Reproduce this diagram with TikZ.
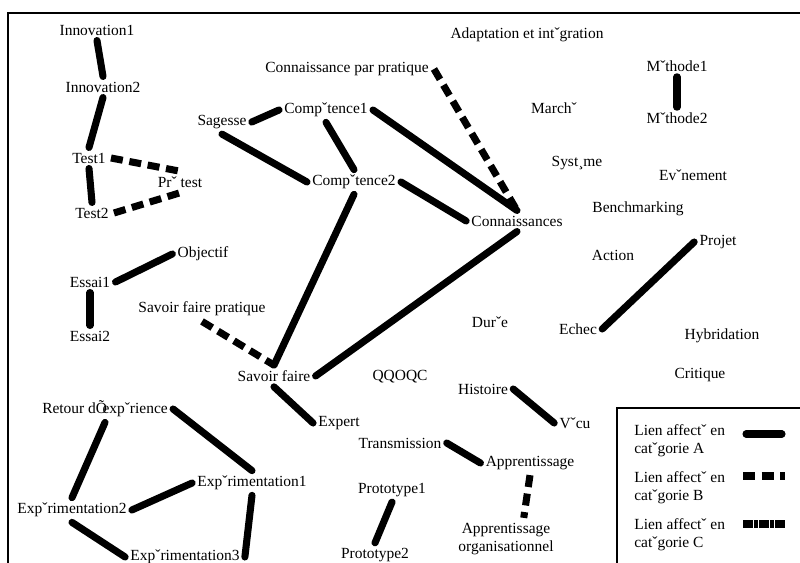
\documentclass[tikz,border=0pt]{standalone}
\usepackage{fontspec}
\setmainfont{Liberation Serif}
\usetikzlibrary{positioning}

\begin{document}
\begin{tikzpicture}[x=0.75pt, y=-0.75pt,
    mot/.style={inner sep=1.5pt, outer sep=2.5pt,
                font=\fontsize{11.6}{13.5}\selectfont},
    lienA/.style={line width=5.3pt, line cap=round},
    lienB/.style={line width=5.3pt, dash pattern=on 9pt off 5pt},
    lienC/.style={line width=5.3pt, dash pattern=on 3.6pt off 0.4pt}
  ]
    \useasboundingbox (0,0) rectangle (800,563);
    \draw[line width=1pt] (8,570) -- (8,13) -- (810,13);

    % mots
    \node[mot] (inno1) at (97,30) {Innovation1};
    \node[mot] (inno2) at (103,87) {Innovation2};
    \node[mot] (test1) at (89,158) {Test1};
    \node[mot] (pretest) at (180,182) {Prˇ test};
    \node[mot] (test2) at (92,213) {Test2};
    \node[mot] (objectif) at (203,254) {Objectif};
    \node[mot] (essai1) at (90,282) {Essai1};
    \node[mot] (essai2) at (90,336) {Essai2};
    \node[mot] (sfpratique) at (202,309) {Savoir faire pratique};
    \node[mot] (sfaire) at (274,376) {Savoir faire};
    \node[mot] (qqoqc) at (400,377) {QQOQC};
    \node[mot] (sagesse) at (222,122) {Sagesse};
    \node[mot] (comp1) at (326,110) {Compˇtence1};
    \node[mot] (comp2) at (354,182) {Compˇtence2};
    \node[mot] (connais) at (517,221) {Connaissances};
    \node[mot] (cpratique) at (347,69) {Connaissance par pratique};
    \node[mot] (adapt) at (527,35) {Adaptation et intˇgration};
    \node[mot] (marche) at (554,108) {Marchˇ};
    \node[mot] (meth1) at (677,66) {Mˇthode1};
    \node[mot] (meth2) at (677,118) {Mˇthode2};
    \node[mot] (systeme) at (577,163) {Syst¸me};
    \node[mot] (evenement) at (693,175) {Evˇnement};
    \node[mot] (bench) at (638,209) {Benchmarking};
    \node[mot] (projet) at (718,242) {Projet};
    \node[mot] (action) at (613,255) {Action};
    \node[mot] (duree) at (490,322) {Durˇe};
    \node[mot] (echec) at (578,329) {Echec};
    \node[mot] (hybrid) at (722,336) {Hybridation};
    \node[mot] (critique) at (700,375) {Critique};
    \node[mot] (histoire) at (483,389) {Histoire};
    \node[mot] (vecu) at (575,423) {Vˇcu};
    \node[mot] (transm) at (400,443) {Transmission};
    \node[mot] (appr) at (530,463) {Apprentissage};
    \node[mot, align=center] (approrg) at (506,539) {Apprentissage\\organisationnel};
    \node[mot] (proto1) at (392,490) {Prototype1};
    \node[mot] (proto2) at (375,555) {Prototype2};
    \node[mot] (expert) at (339,423) {Expert};
    \node[mot] (retour) at (105,409) {Retour dÕ\kern-.3em expˇrience};
    \node[mot] (exp1) at (252,483) {Expˇrimentation1};
    \node[mot] (exp2) at (72,510) {Expˇrimentation2};
    \node[mot] (exp3) at (185,557) {Expˇrimentation3};

    % liens A
    \draw[lienA] (inno1.south) -- (inno2.north);
    \draw[lienA] (inno2.south) -- (test1.north);
    \draw[lienA] (test1.south) -- (test2.north);
    \draw[lienA] (essai1.east) -- (objectif.west);
    \draw[lienA] (essai1.south) -- (essai2.north);
    \draw[lienA] (sagesse.east) -- (comp1.west);
    \draw[lienA] (sagesse.south) -- (comp2.west);
    \draw[lienA] (comp1.south) -- (comp2.north);
    \draw[lienA] (comp1.east) -- (connais.north);
    \draw[lienA] (comp2.east) -- (connais.west);
    \draw[lienA] (comp2.south) -- (sfaire.north);
    \draw[lienA] (sfaire.east) -- (connais.south);
    \draw[lienA] (sfaire.south) -- (expert.west);
    \draw[lienA] (meth1.south) -- (meth2.north);
    \draw[lienA] (projet.west) -- (echec.east);
    \draw[lienA] (histoire.east) -- (vecu.west);
    \draw[lienA] (transm.east) -- (appr.west);
    \draw[lienA] (proto1.south) -- (proto2.north);
    \draw[lienA] (retour.east) -- (exp1.north);
    \draw[lienA] (retour.south) -- (exp2.north);
    \draw[lienA] (exp1.west) -- (exp2.east);
    \draw[lienA] (exp1.south) -- (exp3.east);
    \draw[lienA] (exp2.south) -- (exp3.west);

    % liens B
    \draw[lienB] (test1.east) -- (pretest.north);
    \draw[lienB] (test2.east) -- (pretest.south);
    \draw[lienB] (cpratique.east) -- (connais.north);
    \draw[lienB] (sfpratique.south) -- (sfaire.north);
    \draw[lienB] (appr.south) -- (approrg.50);

    % legende
    \draw[line width=1pt] (617,570) -- (617,408) -- (810,408);
    \node[mot, anchor=west, align=left] (legA) at (629,441) {Lien affectˇ en\\catˇgorie A};
    \node[mot, anchor=west, align=left] (legB) at (629,488) {Lien affectˇ en\\catˇgorie  B};
    \node[mot, anchor=west, align=left] (legC) at (629,535) {Lien affectˇ en\\catˇgorie  C};
    \coordinate (a1) at (746,434);
    \coordinate (a2) at (782,434);
    \coordinate (b1) at (743,476);
    \coordinate (b2) at (785,476);
    \coordinate (c1) at (743,524);
    \coordinate (c2) at (785,524);
    \draw[lienA] (a1) -- (a2);
    \draw[lienB] (b1) -- (b2);
    \draw[lienC] (c1) -- (c2);
\end{tikzpicture}
\end{document}
